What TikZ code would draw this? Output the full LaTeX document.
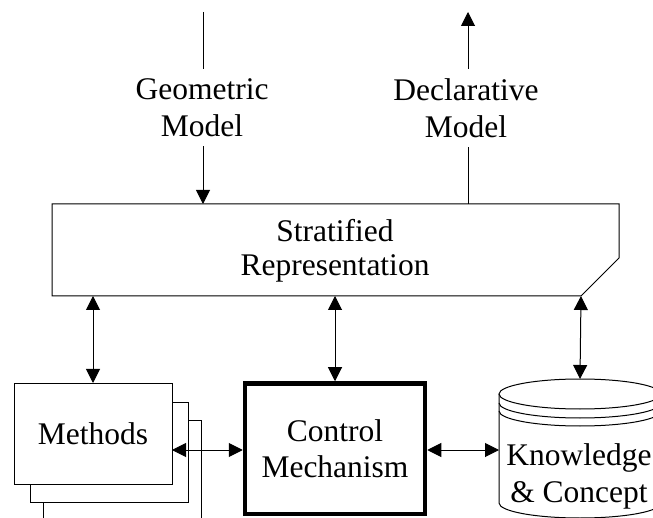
\documentclass[tikz,border=0pt]{standalone}
\usepackage{fontspec}
\setmainfont{Liberation Serif}
\usetikzlibrary{arrows.meta,calc}
\tikzset{
  lbl/.style={font=\fontsize{31.5}{37}\selectfont, align=center, inner xsep=0pt, inner ysep=9pt},
  thin line/.style={line width=1pt, draw=black},
  arr/.style={thin line, -{Triangle[length=14pt,width=14pt]}},
  darr/.style={thin line, {Triangle[length=14pt,width=14pt]}-{Triangle[length=14pt,width=14pt]}},
  boxm/.style={thin line, fill=white, rectangle, minimum width=158pt, minimum height=101pt, inner sep=0pt, outer sep=0pt, font=\fontsize{31.5}{37}\selectfont},
  ctrl/.style={draw=black, line width=4.5pt, rectangle, minimum width=180pt, minimum height=130.5pt, inner sep=0pt, align=center, font=\fontsize{31.5}{36}\selectfont}
}
\begin{document}
\begin{tikzpicture}[x=1pt,y=-1pt]
\useasboundingbox (0,0) rectangle (653,518);
\clip (0,0) rectangle (653,518);

% Stratified representation shape
\coordinate (stl) at (52,204);
\coordinate (str) at (619,204);
\coordinate (srm) at (619,258);
\coordinate (sch) at (581,296);
\coordinate (sbl) at (52,296);
\draw[thin line] (stl) -- (str) -- (srm) -- (sch) -- (sbl) -- cycle;
\node[lbl, inner ysep=0pt, font=\fontsize{31.5}{34}\selectfont] (strat) at (335,250.7) {Stratified\\Representation};

% Top labels
\node[lbl] (geo) at (202,107.75) {Geometric\\Model};
\node[lbl] (decl) at (466,107.75) {Declarative\\Model};
\coordinate (gtop) at (203,12);
\coordinate (dtop) at (468,12);
\draw[thin line] (gtop) -- (gtop |- geo.north);
\draw[arr] (gtop |- geo.south) -- (gtop |- stl);
\draw[arr] (dtop |- decl.north) -- (dtop);
\draw[thin line] (dtop |- stl) -- (dtop |- decl.south);

% Methods stack
\draw[thin line] (172,402) -- (188,402) -- (188,502) -- (30,502) -- (30,484);
\draw[thin line] (188,420) -- (201,420) -- (201,530);
\draw[thin line] (43,502) -- (43,530);
\node[boxm] (methods) at (93,433.5) {Methods};

% Control mechanism
\node[ctrl] (control) at (335,448.75) {Control\\Mechanism};

% Knowledge cylinder
\coordinate (cyltop) at (580,379);
\coordinate (cylleft) at (499,450);
\draw[thin line] (499,394) -- (499,503) arc[start angle=180, end angle=0, x radius=81, y radius=15] -- (661,394);
\draw[thin line] (580,394) ellipse[x radius=81, y radius=15];
\draw[thin line] (499,403) arc[start angle=180, end angle=0, x radius=81, y radius=15];
\draw[thin line] (499,411) arc[start angle=180, end angle=0, x radius=81, y radius=15];
\node[lbl, inner ysep=0pt] (kc) at (579,476.2) {Knowledge\\\&~Concept};

% Connectors
\draw[darr] (methods.north |- sbl) -- (methods.north);
\draw[darr] (control.north |- sbl) -- (control.north);
\draw[darr] (sch) -- (cyltop);
\draw[darr] (methods.east |- 0,450) -- (control.west |- 0,450);
\draw[darr] (control.east |- 0,450) -- (cylleft);
\end{tikzpicture}
\end{document}
